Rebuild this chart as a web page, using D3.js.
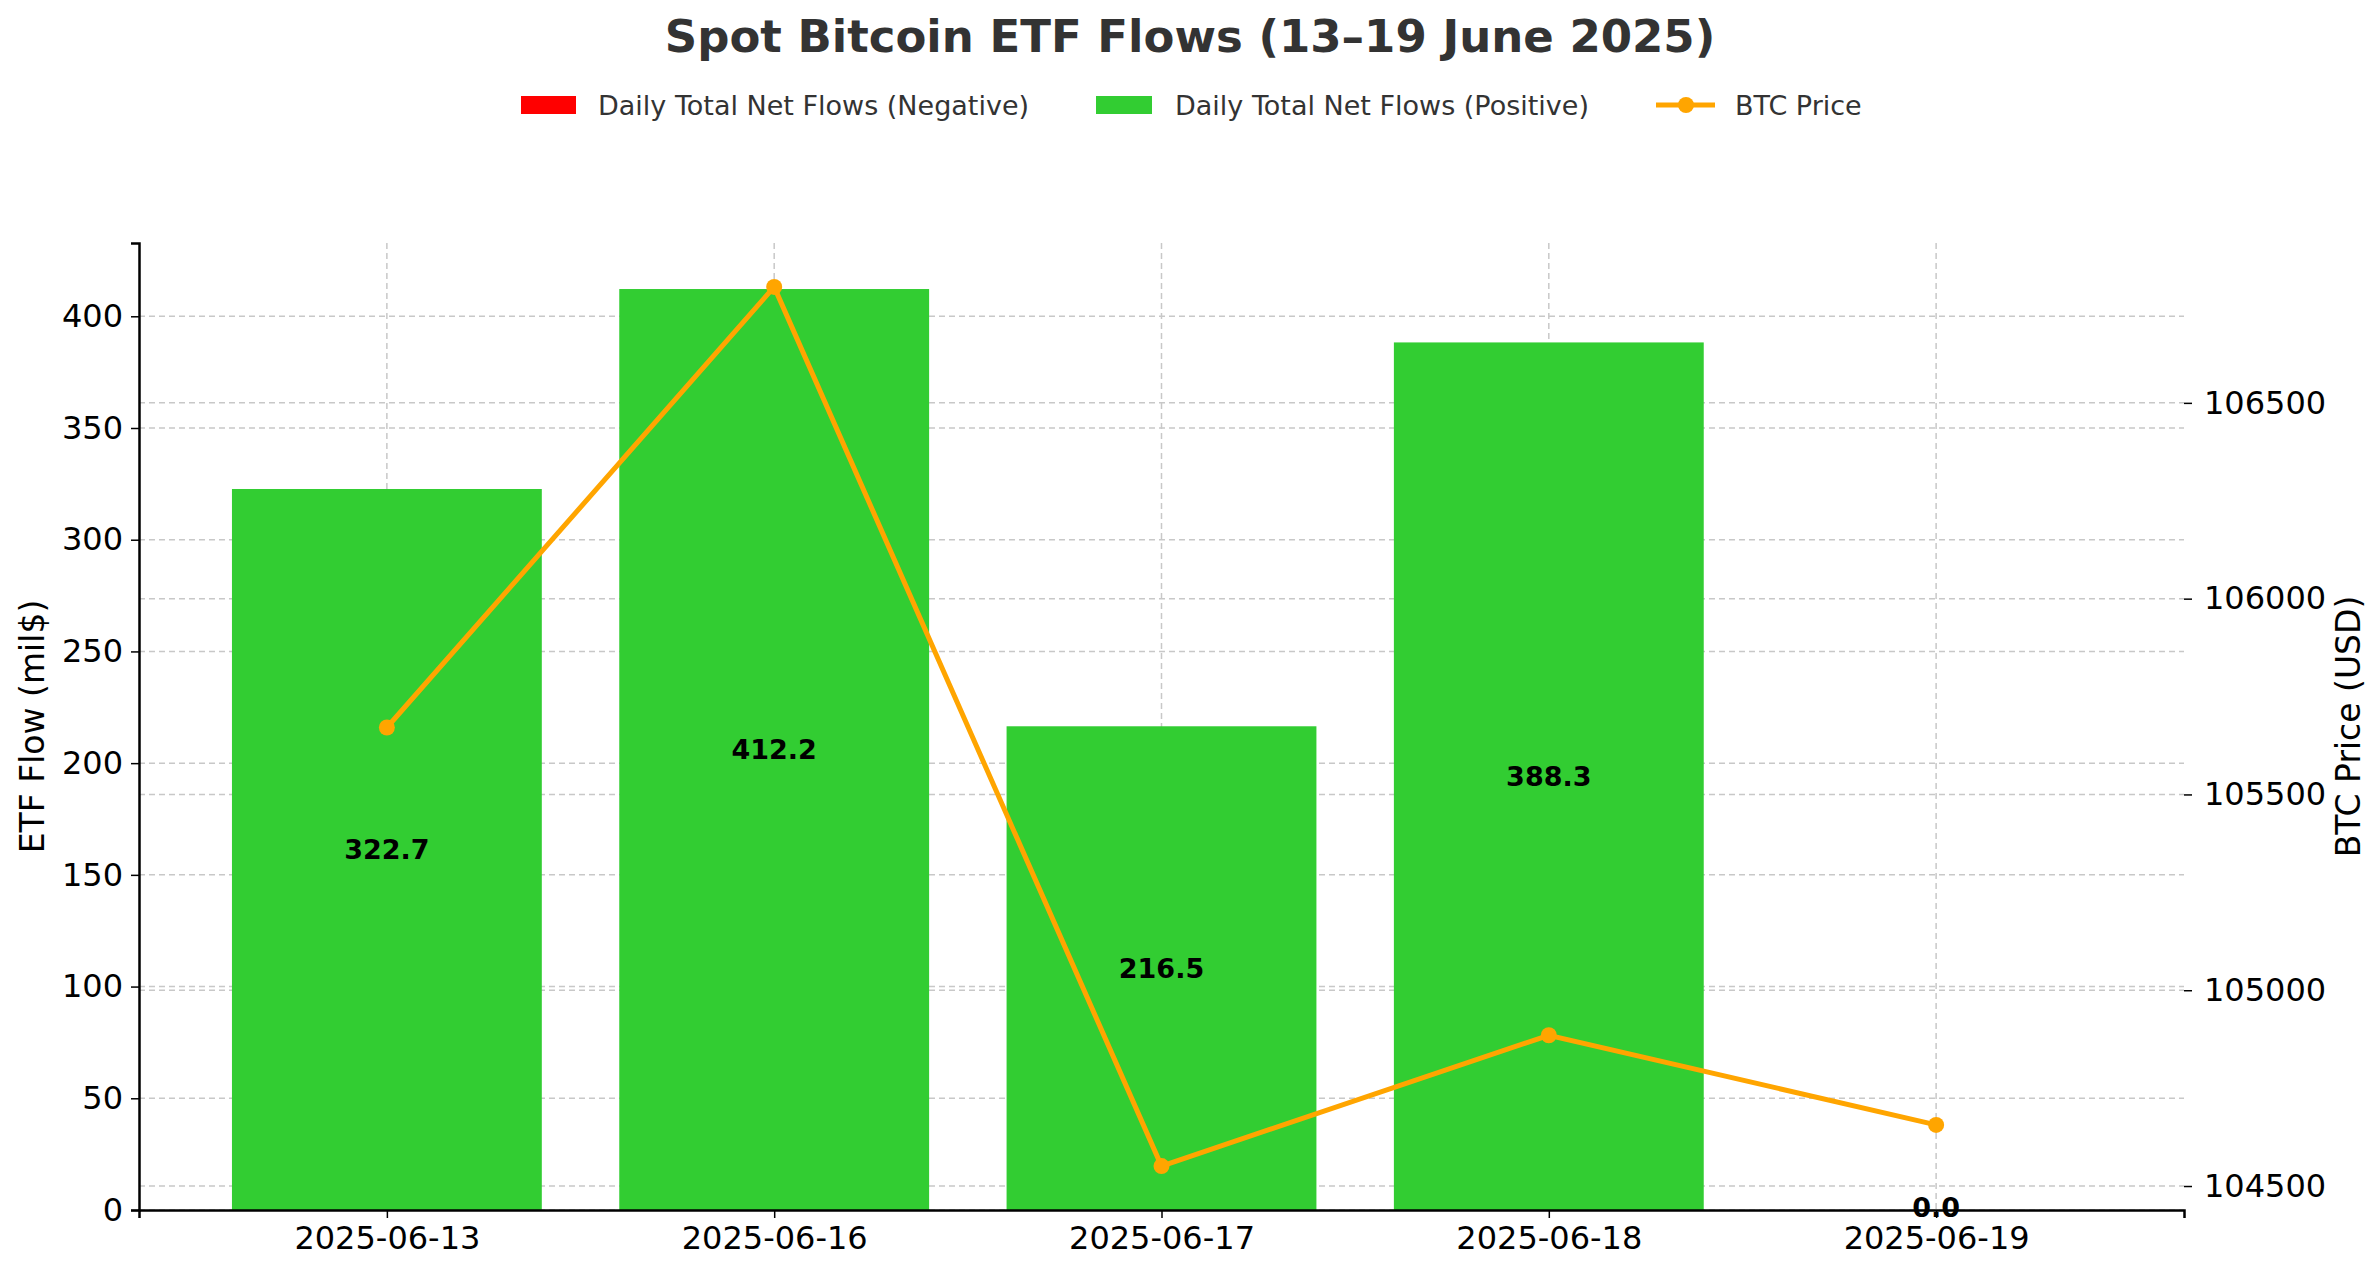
<!DOCTYPE html>
<html><head><meta charset="utf-8">
<script src="https://cdn.jsdelivr.net/npm/d3@7"></script>
<style>body{margin:0;background:#fff}svg{font-family:"DejaVu Sans",sans-serif}</style>
</head><body><svg id="c" width="2379" height="1270"></svg>
<script>
const dates = ["2025-06-13","2025-06-16","2025-06-17","2025-06-18","2025-06-19"];
const flows = [322.7, 412.2, 216.5, 388.3, 0.0];
const prices = [105671, 106796, 104551, 104885, 104656];
const leftTicks = [0,50,100,150,200,250,300,350,400];
const rightTicks = [104500,105000,105500,106000,106500];

const svg = d3.select("#c");
const L=139, R=2184, T=243, B=1210;
const x = d3.scaleLinear().domain([-0.64, 4.64]).range([L,R]);
const y = d3.scaleLinear().domain([0, 432.8]).range([B,T]);
const pr = d3.extent(prices), pad=(pr[1]-pr[0])*0.05;
const y2 = d3.scaleLinear().domain([pr[0]-pad, pr[1]+pad]).range([B,T]);

const grid = svg.append("g").attr("stroke","#c8c8c8").attr("stroke-width",1.5).attr("stroke-dasharray","6,4");
leftTicks.forEach(t=>grid.append("line").attr("x1",L).attr("x2",R).attr("y1",y(t)).attr("y2",y(t)));
rightTicks.forEach(t=>grid.append("line").attr("x1",L).attr("x2",R).attr("y1",y2(t)).attr("y2",y2(t)));
dates.forEach((d,i)=>grid.append("line").attr("x1",x(i)).attr("x2",x(i)).attr("y1",T).attr("y2",B));

svg.append("g").selectAll("rect").data(flows).join("rect")
 .attr("x",(d,i)=>x(i-0.4)).attr("width",x(0.8)-x(0))
 .attr("y",d=>y(Math.max(d,0))).attr("height",d=>Math.abs(y(0)-y(d)))
 .attr("fill",d=>d>=0?"#32cd32":"#ff0000");

const line = d3.line().x((d,i)=>x(i)).y(d=>y2(d));
svg.append("path").datum(prices).attr("d",line).attr("fill","none").attr("stroke","#ffa500").attr("stroke-width",5);
svg.append("g").selectAll("circle").data(prices).join("circle")
 .attr("cx",(d,i)=>x(i)).attr("cy",d=>y2(d)).attr("r",8).attr("fill","#ffa500");

const ax = svg.append("g").attr("transform",`translate(0,${B})`)
 .call(d3.axisBottom(x).tickValues([0,1,2,3,4]).tickFormat(i=>dates[i]).tickSize(8).tickPadding(8));
const ay = svg.append("g").attr("transform",`translate(${L},0)`)
 .call(d3.axisLeft(y).tickValues(leftTicks).tickSize(8).tickPadding(8));
const ay2 = svg.append("g").attr("transform",`translate(${R},0)`)
 .call(d3.axisRight(y2).tickValues(rightTicks).tickFormat(d3.format("d")).tickSize(8).tickPadding(12));
[ax,ay,ay2].forEach(g=>{g.selectAll("text").attr("font-size",32).attr("fill","#000").attr("font-family","DejaVu Sans");
 g.selectAll("line").attr("stroke","#000").attr("stroke-width",1.5);});
ay2.select(".domain").remove();
ax.select(".domain").attr("stroke-width",2.5);
ay.select(".domain").attr("stroke-width",2.5);

svg.append("g").selectAll("text").data(flows).join("text")
 .attr("x",(d,i)=>x(i)).attr("y",d=>y(d/2)).attr("dy",d=>d>0?"0.35em":"0.25em").attr("text-anchor","middle")
 .attr("font-size",27).attr("font-weight","bold").text(d=>d.toFixed(1));

svg.append("text").attr("transform",`translate(44,${(T+B)/2}) rotate(-90)`).attr("text-anchor","middle")
 .attr("font-size",33).text("ETF Flow (mil$)");
svg.append("text").attr("transform",`translate(2360,${(T+B)/2}) rotate(-90)`).attr("text-anchor","middle")
 .attr("font-size",33).text("BTC Price (USD)");
svg.append("text").attr("x",1190).attr("y",52).attr("text-anchor","middle").attr("font-size",45)
 .attr("font-weight","bold").attr("fill","#333").text("Spot Bitcoin ETF Flows (13–19 June 2025)");

const lg = svg.append("g").attr("font-size",27).attr("fill","#333");
lg.append("rect").attr("x",521).attr("y",96).attr("width",55).attr("height",18).attr("fill","#ff0000");
lg.append("text").attr("x",598).attr("y",115).text("Daily Total Net Flows (Negative)");
lg.append("rect").attr("x",1096).attr("y",96).attr("width",56).attr("height",18).attr("fill","#32cd32");
lg.append("text").attr("x",1175).attr("y",115).text("Daily Total Net Flows (Positive)");
lg.append("line").attr("x1",1656).attr("x2",1715).attr("y1",105).attr("y2",105).attr("stroke","#ffa500").attr("stroke-width",5);
lg.append("circle").attr("cx",1686).attr("cy",105).attr("r",8).attr("fill","#ffa500");
lg.append("text").attr("x",1735).attr("y",115).text("BTC Price");
</script></body></html>
